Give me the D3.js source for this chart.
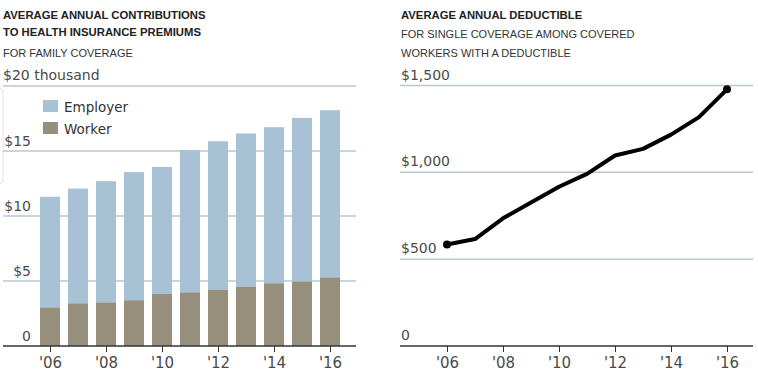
<!DOCTYPE html>
<html>
<head>
<meta charset="utf-8">
<script src="https://cdn.jsdelivr.net/npm/d3@7"></script>
<style>
  body { margin: 0; background: #fff; }
  svg text { font-family: "Liberation Sans", Arial, sans-serif; }
  .title { font-weight: bold; font-size: 11.3px; fill: #222; }
  .sub { font-size: 11px; fill: #333; }
  svg text.tick-label { font-family: "DejaVu Sans", sans-serif; font-size: 14px; fill: #4a4a4a; }
  svg text.year-label { font-family: "DejaVu Sans", sans-serif; font-size: 15px; fill: #4a4a4a; }
  svg text.legend-label { font-family: "DejaVu Sans", sans-serif; font-size: 13.5px; fill: #333; }
</style>
</head>
<body>
<svg id="chart" width="758" height="385"></svg>
<script>
// Premiums, in thousands of dollars
const years = [2006, 2007, 2008, 2009, 2010, 2011, 2012, 2013, 2014, 2015, 2016];
const totalPremium = [11.48, 12.11, 12.68, 13.38, 13.77, 15.07, 15.75, 16.35, 16.83, 17.55, 18.14];
const workerShare = [2.97, 3.28, 3.35, 3.52, 4.00, 4.13, 4.32, 4.57, 4.82, 4.96, 5.28];
const premiumTicks = [0, 5, 10, 15, 20];

// Deductible, dollars
const deductible = [584, 616, 735, 826, 917, 991, 1097, 1135, 1217, 1318, 1478];
const deductibleTicks = [0, 500, 1000, 1500];

const xTickYears = [2006, 2008, 2010, 2012, 2014, 2016];
const legendItems = ['Employer', 'Worker'];

const colors = { employer: '#a8c2d5', worker: '#968f7b', grid: '#b9c8d0', axis: '#333' };

const svg = d3.select('#chart');
const yearFmt = d => "'" + String(d).slice(2);

function styleAxis(g) {
    g.attr('font-size', null).attr('font-family', null);
    g.select('.domain').remove();
    g.selectAll('line').attr('stroke', colors.axis);
    g.selectAll('text').attr('class', 'year-label').attr('dy', null).attr('y', 22).attr('fill', null);
}

// ---------- left chart: stacked bars ----------
const left = svg.append('g');

left.append('text').attr('class', 'title').attr('x', 3).attr('y', 19).text('AVERAGE ANNUAL CONTRIBUTIONS');
left.append('text').attr('class', 'title').attr('x', 3).attr('y', 36).text('TO HEALTH INSURANCE PREMIUMS');
left.append('text').attr('class', 'sub').attr('x', 3).attr('y', 57).text('FOR FAMILY COVERAGE');

const xL = d3.scaleLinear().domain([2006, 2016]).range([50, 330]);
const yL = d3.scaleLinear().domain([0, 20]).range([346, 86]);
const barW = 20;

// faint panel edge on the far left
left.append('rect')
    .attr('x', -10).attr('y', 88).attr('width', 13).attr('height', 96)
    .attr('rx', 4).attr('fill', 'none').attr('stroke', '#e2e2e2');

premiumTicks.filter(d => d > 0).forEach(t => {
    left.append('line')
        .attr('x1', 3).attr('x2', 356)
        .attr('y1', yL(t)).attr('y2', yL(t))
        .attr('stroke', colors.grid).attr('stroke-width', 1.5);
});

premiumTicks.forEach(t => {
    if (t === 20) {
        left.append('text').attr('class', 'tick-label')
            .attr('x', 3).attr('y', yL(t) - 6).text('$20 thousand');
    } else {
        left.append('text').attr('class', 'tick-label')
            .attr('x', 31).attr('y', yL(t) - 5)
            .attr('text-anchor', 'end')
            .text(t === 0 ? '0' : '$' + t);
    }
});

const barData = years.map((yr, i) => ({ year: yr, total: totalPremium[i], worker: workerShare[i] }));

left.selectAll('rect.employer')
    .data(barData)
    .enter().append('rect')
    .attr('class', 'employer')
    .attr('x', d => xL(d.year) - barW / 2)
    .attr('width', barW)
    .attr('y', d => yL(d.total))
    .attr('height', d => yL(d.worker) - yL(d.total))
    .attr('fill', colors.employer);

left.selectAll('rect.worker')
    .data(barData)
    .enter().append('rect')
    .attr('class', 'worker')
    .attr('x', d => xL(d.year) - barW / 2)
    .attr('width', barW)
    .attr('y', d => yL(d.worker))
    .attr('height', d => yL(0) - yL(d.worker))
    .attr('fill', colors.worker);

// legend
legendItems.forEach((name, i) => {
    const y0 = 100 + i * 22;
    left.append('rect')
        .attr('x', 43).attr('y', y0).attr('width', 15).attr('height', 12)
        .attr('fill', i === 0 ? colors.employer : colors.worker);
    left.append('text').attr('class', 'legend-label')
        .attr('x', 64).attr('y', y0 + 11.5).text(name);
});

// x axis
left.append('g')
    .attr('transform', `translate(0,${yL(0)})`)
    .call(d3.axisBottom(xL).tickValues(xTickYears).tickFormat(yearFmt).tickSize(6).tickSizeOuter(0))
    .call(styleAxis);
left.append('line')
    .attr('x1', 3).attr('x2', 356).attr('y1', yL(0)).attr('y2', yL(0))
    .attr('stroke', colors.axis).attr('stroke-width', 1.5);

// ---------- right chart: deductible line ----------
const right = svg.append('g');

right.append('text').attr('class', 'title').attr('x', 401).attr('y', 19).text('AVERAGE ANNUAL DEDUCTIBLE');
right.append('text').attr('class', 'sub').attr('x', 401).attr('y', 38).text('FOR SINGLE COVERAGE AMONG COVERED');
right.append('text').attr('class', 'sub').attr('x', 401).attr('y', 57).text('WORKERS WITH A DEDUCTIBLE');

const xR = d3.scaleLinear().domain([2006, 2016]).range([447, 727]);
const yR = d3.scaleLinear().domain([0, 1500]).range([346, 85.5]);

deductibleTicks.filter(d => d > 0).forEach(t => {
    right.append('line')
        .attr('x1', 400).attr('x2', 753)
        .attr('y1', yR(t)).attr('y2', yR(t))
        .attr('stroke', colors.grid).attr('stroke-width', 1.5);
});

deductibleTicks.forEach(t => {
    right.append('text').attr('class', 'tick-label')
        .attr('x', 401).attr('y', yR(t) - 6)
        .text(t === 0 ? '0' : d3.format('$,')(t));
});

const lineData = years.map((yr, i) => ({ year: yr, value: deductible[i] }));
const line = d3.line().x(d => xR(d.year)).y(d => yR(d.value));

right.append('path')
    .datum(lineData)
    .attr('d', line)
    .attr('fill', 'none')
    .attr('stroke', '#000')
    .attr('stroke-width', 4)
    .attr('stroke-linejoin', 'round');

right.selectAll('circle.end')
    .data([lineData[0], lineData[lineData.length - 1]])
    .enter().append('circle')
    .attr('class', 'end')
    .attr('cx', d => xR(d.year))
    .attr('cy', d => yR(d.value))
    .attr('r', 4)
    .attr('fill', '#000');

right.append('g')
    .attr('transform', `translate(0,${yR(0)})`)
    .call(d3.axisBottom(xR).tickValues(xTickYears).tickFormat(yearFmt).tickSize(6).tickSizeOuter(0))
    .call(styleAxis);
right.append('line')
    .attr('x1', 400).attr('x2', 753).attr('y1', yR(0)).attr('y2', yR(0))
    .attr('stroke', colors.axis).attr('stroke-width', 1.5);
</script>
</body>
</html>
